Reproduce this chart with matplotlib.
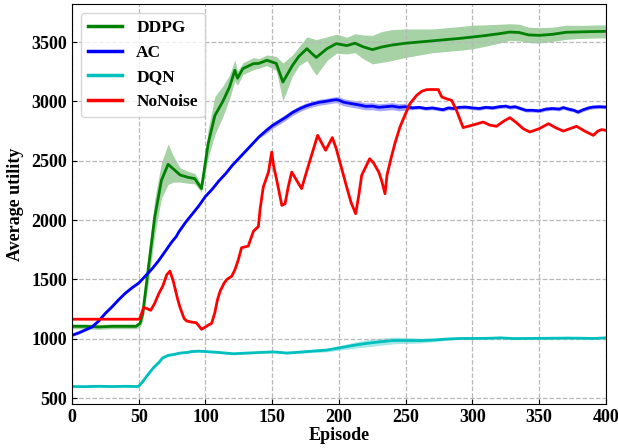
import numpy as np
from matplotlib import pyplot as plt

# Datos (episodio, utilidad media, desviación)
x_ddpg = [0, 10, 20, 30, 40, 48, 51, 53, 57, 62, 67, 72, 76, 81, 87, 92, 97, 102, 107, 113,
          118, 122, 124, 128, 136, 140, 146, 153, 158, 165, 170, 176, 180, 183, 191, 198, 206,
          212, 218, 225, 232, 240, 250, 260, 270, 280, 290, 300, 310, 320, 328, 335, 342, 350,
          360, 370, 380, 390, 400]
y_ddpg = [1105, 1105, 1100, 1105, 1105, 1105, 1130, 1212, 1577, 2026, 2335, 2470, 2430, 2380,
          2360, 2349, 2265, 2644, 2880, 3000, 3121, 3262, 3195, 3276, 3318, 3320, 3346, 3320,
          3163, 3300, 3380, 3444, 3400, 3370, 3444, 3486, 3470, 3490, 3460, 3436, 3458, 3475,
          3490, 3500, 3510, 3520, 3530, 3542, 3555, 3570, 3584, 3580, 3560, 3556, 3565, 3582,
          3585, 3588, 3590]
s_ddpg = [20, 20, 20, 20, 20, 20, 30, 60, 120, 150, 150, 170, 110, 60, 50, 45, 30, 120, 160, 130,
          100, 90, 60, 50, 50, 40, 45, 60, 160, 90, 80, 100, 130, 150, 100, 80, 70,
          80, 100, 120, 130, 130, 120, 110, 100, 100, 100, 100, 90, 80, 70, 70, 65, 65,
          60, 60, 55, 55, 55]

x_ac = [0, 5, 10, 15, 20, 25, 30, 35, 40, 45, 50, 55, 60, 65, 70, 75, 78, 80, 85, 90, 95, 100,
        105, 110, 115, 120, 125, 130, 135, 140, 145, 150, 155, 160, 165, 170, 175, 180, 185,
        190, 195, 198, 200, 203, 205, 210, 215, 220, 225, 230, 235, 240, 245, 250, 255, 260,
        265, 270, 275, 278, 282, 286, 290, 295, 300, 305, 310, 315, 320, 325, 328, 332, 336,
        340, 345, 350, 355, 360, 365, 368, 372, 376, 379, 383, 387, 390, 395, 400]
y_ac = [1030, 1050, 1075, 1100, 1150, 1215, 1270, 1330, 1385, 1430, 1470, 1530, 1590, 1660,
        1740, 1820, 1860, 1900, 1980, 2050, 2120, 2200, 2260, 2330, 2390, 2460, 2520, 2580,
        2640, 2700, 2750, 2795, 2830, 2865, 2905, 2935, 2960, 2978, 2992, 3000, 3010, 3014,
        3010, 2995, 2990, 2980, 2970, 2958, 2960, 2950, 2955, 2960, 2950, 2955, 2945, 2950,
        2940, 2945, 2935, 2930, 2945, 2940, 2950, 2952, 2945, 2940, 2950, 2945, 2955, 2960,
        2950, 2955, 2940, 2925, 2925, 2920, 2935, 2940, 2935, 2948, 2935, 2925, 2910, 2930,
        2945, 2952, 2955, 2952]
s_ac = [10] * 30 + [25] * 12 + [30] * 12 + [15] * 34

x_dqn = [0, 10, 20, 30, 40, 48, 50, 53, 57, 61, 65, 68, 72, 77, 81, 86, 90, 95, 100,
         110, 121, 131, 141, 151, 161, 171, 181, 191, 201, 211, 221, 231, 241, 251, 261,
         271, 281, 291, 301, 311, 321, 331, 341, 351, 361, 371, 381, 391, 400]
y_dqn = [598, 597, 600, 598, 600, 598, 600, 640, 700, 756, 800, 840, 860, 870, 880, 885, 893,
         896, 893, 885, 874, 880, 885, 890, 880, 888, 897, 905, 925, 945, 962, 975, 986, 986,
         985, 990, 998, 1003, 1003, 1004, 1008, 1002, 1003, 1004, 1005, 1006, 1005, 1003, 1008]
s_dqn = [6] * 7 + [8] * 12 + [8, 8, 8, 8, 8, 8, 10, 12, 15, 20] + \
        [25, 30, 30, 28, 25, 20, 15, 10, 8, 8] + [6] * 10

x_nn = [0, 50, 51, 53.7, 56, 59, 62, 65, 68, 71, 73.4, 76, 79, 81, 84, 86, 90, 93, 95, 97, 100,
        102, 104.6, 107, 109, 111, 114, 116, 119.7, 122, 124.7, 127, 132, 136, 139.6, 141,
        143.3, 147.2, 149.6, 151, 153.4, 157.2, 159.6, 162, 164.6, 168, 172, 175, 178.3, 184,
        187, 190, 195, 198, 201, 205.8, 209, 212.5, 215, 217, 223, 226, 230, 232, 234.5, 236,
        239, 242, 245.7, 250, 253.2, 258.2, 262, 265.7, 270, 274.4, 277, 281, 284.4, 288, 293,
        300, 308, 313, 318, 323, 328, 333, 338, 343, 350, 356.9, 362, 368, 373, 378, 384,
        390.5, 394, 396.7, 400]
y_nn = [1165, 1165, 1175, 1265, 1255, 1240, 1300, 1380, 1444, 1540, 1570, 1480, 1340, 1262,
        1170, 1150, 1140, 1136, 1110, 1080, 1100, 1115, 1130, 1220, 1330, 1402, 1470, 1500,
        1528, 1580, 1669, 1767, 1781, 1908, 1945, 2100, 2278, 2405, 2573, 2460, 2335, 2124,
        2138, 2280, 2405, 2340, 2265, 2380, 2503, 2714, 2650, 2588, 2695, 2600, 2475, 2278,
        2150, 2054, 2220, 2377, 2517, 2480, 2400, 2330, 2222, 2380, 2520, 2650, 2784, 2900,
        2981, 3051, 3085, 3099, 3100, 3099, 3037, 3020, 3009, 2925, 2779, 2800, 2826, 2800,
        2790, 2830, 2863, 2820, 2770, 2742, 2770, 2812, 2780, 2750, 2770, 2790, 2750, 2714,
        2750, 2762, 2756]

plt.rcParams['font.family'] = 'serif'
plt.rcParams['font.serif'] = ['Liberation Serif', 'DejaVu Serif']
plt.rcParams['font.weight'] = 'bold'

fig = plt.figure(figsize=(6.18, 4.48), dpi=100)
ax = fig.add_axes([0.1165, 0.098, 0.864, 0.893])

series = [("DDPG", x_ddpg, y_ddpg, s_ddpg, 'g'),
          ("AC", x_ac, y_ac, s_ac, 'b'),
          ("DQN", x_dqn, y_dqn, s_dqn, 'c'),
          ("NoNoise", x_nn, y_nn, None, 'r')]

for nombre, xs, ys, ss, col in series:
    xs = np.array(xs)
    ys = np.array(ys)
    if ss is not None:
        ss = np.array(ss)
        ax.fill_between(xs, ys - ss, ys + ss, color=col, alpha=0.35, linewidth=0)
    ax.plot(xs, ys, color=col, linewidth=2, label=nombre)

ax.set_xlim(0, 400)
ax.set_ylim(450, 3820)
ax.set_xticks(np.arange(0, 401, 50))
ax.set_yticks(np.arange(500, 3501, 500))
ax.tick_params(direction='in', labelsize=13)
for lab in ax.get_xticklabels() + ax.get_yticklabels():
    lab.set_fontweight('bold')

ax.grid(True, linestyle='--', color='#b8b8b8', linewidth=0.9)
ax.set_xlabel("Episode", fontsize=13, fontweight='bold', labelpad=1)
ax.set_ylabel("Average utility", fontsize=13, fontweight='bold', labelpad=5)

leg = ax.legend(loc='upper left', prop={'size': 12.5, 'weight': 'bold'})
for linea in leg.get_lines():
    linea.set_linewidth(2.5)

fig.savefig("out.png", dpi=100)
